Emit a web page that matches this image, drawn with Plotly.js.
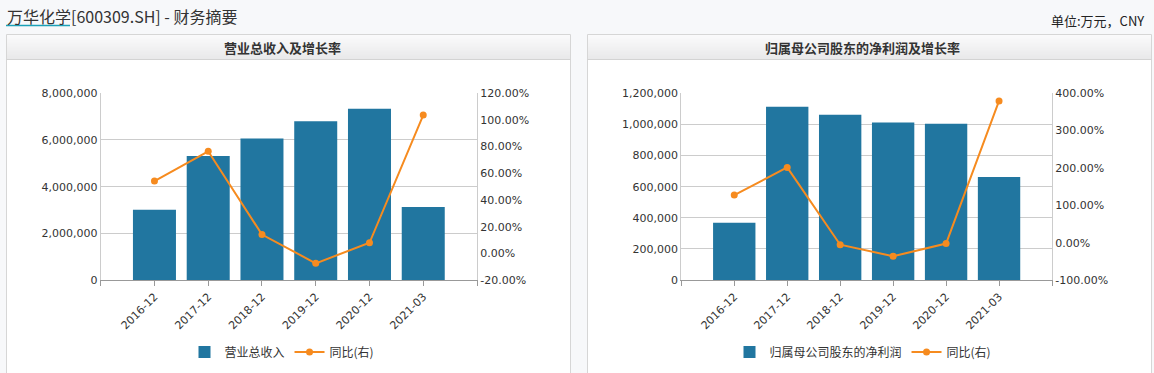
<!DOCTYPE html>
<html>
<head>
<meta charset="utf-8">
<script src="https://cdn.plot.ly/plotly-3.0.1.min.js"></script>
<style>
  html, body { margin: 0; padding: 0; background: #f7f8fa; }
  #chart { width: 1154px; height: 373px; }
</style>
</head>
<body>
<div id="chart"></div>
<script>
// ---- data ----
const categories = ['2016-12', '2017-12', '2018-12', '2019-12', '2020-12', '2021-03'];
const revenue = [3010000, 5312000, 6062000, 6805000, 7343000, 3130000];          // 营业总收入 (万元)
const revenueYoY = [54.2, 76.5, 14.1, -7.5, 7.9, 103.7];                         // 同比 %
const netProfit = [368000, 1113000, 1062000, 1013000, 1004000, 662000];          // 归属母公司股东的净利润 (万元)
const netProfitYoY = [127.5, 201.5, -5.5, -36.5, -2.5, 379.6];                   // 同比 %
const leftYTicks = [0, 2000000, 4000000, 6000000, 8000000];
const leftY2Ticks = [-20, 0, 20, 40, 60, 80, 100, 120];
const rightYTicks = [0, 200000, 400000, 600000, 800000, 1000000, 1200000];
const rightY2Ticks = [-100, 0, 100, 200, 300, 400];

// ---- geometry helpers ----
const W = 1154, H = 373;
const px = x => x / W;
const py = y => 1 - y / H;

const BAR = '#2176a0';
const LINE = '#f68b1f';
const CJK = '"Noto Sans CJK SC", "Noto Sans", sans-serif';
const TICKFONT = { family: '"DejaVu Sans", Verdana, sans-serif', size: 11, color: '#333' };

const idx = categories.map((c, i) => i);
const tickvals = [-1].concat(idx, [categories.length]);
const ticktext = [''].concat(categories, ['']);

const traces = [
  { type: 'bar', name: '营业总收入', x: idx, y: revenue, xaxis: 'x', yaxis: 'y',
    marker: { color: BAR }, legend: 'legend', hoverinfo: 'skip' },
  { type: 'scatter', mode: 'lines+markers', name: '同比(右)', x: idx, y: revenueYoY, xaxis: 'x', yaxis: 'y2',
    line: { color: LINE, width: 2 }, marker: { color: LINE, size: 7 }, legend: 'legend', hoverinfo: 'skip' },
  { type: 'bar', name: '归属母公司股东的净利润', x: idx, y: netProfit, xaxis: 'x2', yaxis: 'y3',
    marker: { color: BAR }, legend: 'legend2', hoverinfo: 'skip' },
  { type: 'scatter', mode: 'lines+markers', name: '同比(右)', x: idx, y: netProfitYoY, xaxis: 'x2', yaxis: 'y4',
    line: { color: LINE, width: 2 }, marker: { color: LINE, size: 7 }, legend: 'legend2', hoverinfo: 'skip' }
];

function xAxis(domain, anchor) {
  return {
    domain: domain, anchor: anchor, range: [-1, categories.length],
    tickmode: 'array', tickvals: tickvals, ticktext: ticktext, tickangle: -45,
    ticks: 'outside', ticklen: 5, tickcolor: '#999', tickfont: TICKFONT,
    showline: true, linecolor: '#999', linewidth: 1, showgrid: false, zeroline: false, fixedrange: true
  };
}
function yLeft(domain, anchor, range, vals) {
  return {
    domain: domain, anchor: anchor, range: range, tickmode: 'array', tickvals: vals,
    ticktext: vals.map(v => v.toLocaleString('en-US')), tickfont: TICKFONT,
    showgrid: true, gridcolor: '#cccccc', gridwidth: 1,
    showline: true, linecolor: '#cccccc', zeroline: false, ticks: '', fixedrange: true
  };
}
function yRight(overlay, anchor, range, vals) {
  return {
    overlaying: overlay, side: 'right', anchor: anchor, range: range, tickmode: 'array', tickvals: vals,
    ticktext: vals.map(v => v.toFixed(2) + '%'), tickfont: TICKFONT, showgrid: false,
    showline: true, linecolor: '#cccccc', zeroline: false, ticks: '', fixedrange: true
  };
}

const plotDomainY = [py(280), py(93.3)];

// ---- chrome shapes ----
const shapes = [];
function panel(x0, x1) {
  shapes.push({ type: 'rect', xref: 'paper', yref: 'paper', layer: 'below',
    x0: px(x0), x1: px(x1), y0: py(34.5), y1: py(400),
    fillcolor: '#ffffff', line: { color: '#d6d6d6', width: 1 } });
  const top = 35, bot = 59;
  for (let i = 0; i < bot - top; i++) {
    const t = i / (bot - top - 1);
    const c = Math.round(250 - t * 17);
    shapes.push({ type: 'rect', xref: 'paper', yref: 'paper', layer: 'below',
      x0: px(x0 + 0.5), x1: px(x1 - 0.5), y0: py(top + i + 1), y1: py(top + i),
      fillcolor: `rgb(${c},${c},${c + 1})`, line: { width: 0 } });
  }
  shapes.push({ type: 'line', xref: 'paper', yref: 'paper', layer: 'below',
    x0: px(x0), x1: px(x1), y0: py(59.5), y1: py(59.5), line: { color: '#d3d3d3', width: 1 } });
}
panel(6.5, 570.5);
panel(587.5, 1151.5);
shapes.push({ type: 'line', xref: 'paper', yref: 'paper', x0: px(6), x1: px(70), y0: py(25.5), y1: py(25.5),
  line: { color: '#1ba1b8', width: 1.5 } });

const annotations = [
  { xref: 'paper', yref: 'paper', x: px(5), y: py(16), xanchor: 'left', yanchor: 'middle', showarrow: false,
    text: '万华化学[600309.SH] - 财务摘要', font: { family: CJK, size: 16, color: '#333' } },
  { xref: 'paper', yref: 'paper', x: px(1146), y: py(20), xanchor: 'right', yanchor: 'middle', showarrow: false,
    text: '单位:万元，CNY', font: { family: CJK, size: 13, color: '#222' } },
  { xref: 'paper', yref: 'paper', x: px(282), y: py(47.5), xanchor: 'center', yanchor: 'middle', showarrow: false,
    text: '<b>营业总收入及增长率</b>', font: { family: CJK, size: 13, color: '#333' } },
  { xref: 'paper', yref: 'paper', x: px(862), y: py(47.5), xanchor: 'center', yanchor: 'middle', showarrow: false,
    text: '<b>归属母公司股东的净利润及增长率</b>', font: { family: CJK, size: 13, color: '#333' } }
];

const legendBase = {
  orientation: 'h', xanchor: 'center', yanchor: 'middle', y: py(352),
  font: { family: CJK, size: 12, color: '#333' }, bgcolor: 'rgba(0,0,0,0)', itemclick: false, itemdoubleclick: false
};

const layout = {
  width: W, height: H, autosize: false,
  margin: { l: 0, r: 0, t: 0, b: 0, pad: 0 },
  paper_bgcolor: '#f7f8fa', plot_bgcolor: '#ffffff',
  font: TICKFONT,
  bargap: 0.2,
  showlegend: true,
  xaxis: xAxis([px(100.7), px(477)], 'y'),
  yaxis: yLeft(plotDomainY, 'x', [0, 8000000], leftYTicks),
  yaxis2: yRight('y', 'x', [-20, 120], leftY2Ticks),
  xaxis2: xAxis([px(681.3), px(1052)], 'y3'),
  yaxis3: yLeft(plotDomainY, 'x2', [0, 1200000], rightYTicks),
  yaxis4: yRight('y3', 'x2', [-100, 400], rightY2Ticks),
  legend: Object.assign({}, legendBase, { x: px(282) }),
  legend2: Object.assign({}, legendBase, { x: px(863) }),
  shapes: shapes,
  annotations: annotations
};

Plotly.newPlot('chart', traces, layout, { displayModeBar: false, staticPlot: true });
</script>
</body>
</html>
